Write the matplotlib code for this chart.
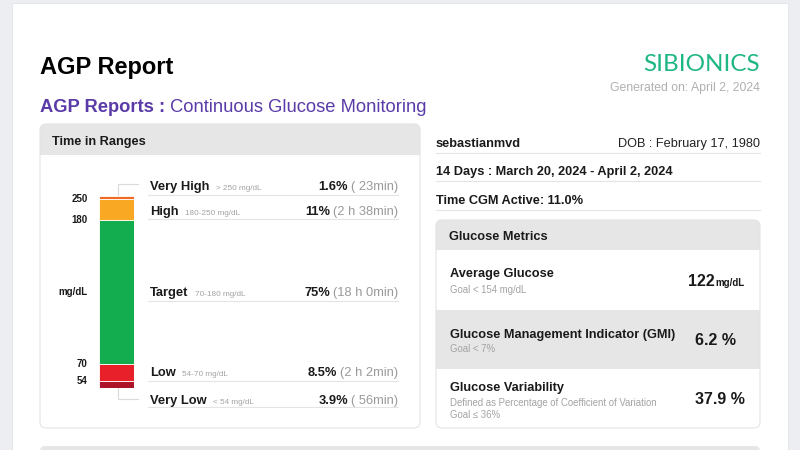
import matplotlib
matplotlib.use("Agg")
import matplotlib.pyplot as plt
from matplotlib.patches import FancyBboxPatch, Rectangle
from matplotlib import transforms

plt.rcParams["font.family"] = ["Liberation Sans", "DejaVu Sans"]

# ---- data ----
range_names = ["Very High", "High", "Target", "Low", "Very Low"]
range_limits = ["> 250 mg/dL", "180-250 mg/dL", "70-180 mg/dL", "54-70 mg/dL", "< 54 mg/dL"]
range_pct = [1.6, 11, 75, 8.5, 3.9]
range_pct_labels = ["1.6%", "11%", "75%", "8.5%", "3.9%"]
range_durations = ["( 23min)", "(2 h 38min)", "(18 h 0min)", "(2 h 2min)", "( 56min)"]
thresholds = [250, 180, 70, 54]  # boundaries between consecutive ranges, top to bottom

metric_names = ["Average Glucose", "Glucose Management Indicator (GMI)", "Glucose Variability"]
metric_goals = [["Goal < 154 mg/dL"], ["Goal < 7%"],
                ["Defined as Percentage of Coefficient of Variation", "Goal \u2264 36%"]]
metric_values = ["122", "6.2 %", "37.9 %"]

patient = "sebastianmvd"
dob = "DOB : February 17, 1980"
period = "14 Days : March 20, 2024 - April 2, 2024"
cgm_active = "Time CGM Active: 11.0%"
generated = "Generated on: April 2, 2024"

# ---- styles ----
range_colors = ["#f26a22", "#f8a823", "#13ad50", "#e8202a", "#ad1429"]
INK = "#1a1a1a"
SUB = "#a3a3a3"
LINE = "#e4e4e4"
HEAD = "#e6e6e6"
PURPLE = "#5a3ba8"
W, H = 800, 450

fig = plt.figure(figsize=(8, 4.5), dpi=100)
fig.patch.set_facecolor("#edeef2")
ax = fig.add_axes([0, 0, 1, 1])
ax.set_xlim(0, W)
ax.set_ylim(H, 0)
ax.axis("off")


def txt(x, y, s, size, bold=False, color=INK, ha="left", va="baseline", **kw):
    return ax.text(x, y, s, fontsize=size, fontweight="bold" if bold else "normal",
                   color=color, ha=ha, va=va, **kw)


def panel(x, y, w, h, head_h):
    ax.add_patch(FancyBboxPatch((x, y), w, h, boxstyle="round,pad=0,rounding_size=6",
                                fc="white", ec="none", zorder=1))
    ax.add_patch(FancyBboxPatch((x, y), w, head_h, boxstyle="round,pad=0,rounding_size=6",
                                fc=HEAD, ec="none", zorder=1.1))
    ax.add_patch(Rectangle((x, y + 8), w, head_h - 8, fc=HEAD, ec="none", zorder=1.1))
    ax.add_patch(FancyBboxPatch((x, y), w, h, boxstyle="round,pad=0,rounding_size=6",
                                fc="none", ec=LINE, lw=0.8, zorder=3))


# page
ax.add_patch(Rectangle((12, 3), 776, 450, fc="white", ec="#e2e3e8", lw=0.6, zorder=0))

# header
txt(40, 74, "AGP Report", 17, bold=True, color="#000000")
t_sub = txt(40, 112, "AGP Reports :", 13.2, bold=True, color=PURPLE)
ax.annotate(" Continuous Glucose Monitoring", xy=(1, 112), xycoords=(t_sub, "data"),
            fontsize=13.2, color=PURPLE, ha="left", va="baseline")
ax.text(760, 71, "SIBIONICS", fontsize=17.5, color="#1fb686", ha="right", va="baseline",
        family=["Lato", "DejaVu Sans"])
txt(760, 91.5, generated, 8.8, color="#b0b0b0", ha="right")

# ---- Time in Ranges panel ----
panel(40, 124, 380, 304, 31)
txt(52, 144.5, "Time in Ranges", 9.2, bold=True)

bx = fig.add_axes([99 / W, 1 - 388 / H, 35 / W, 192 / H])
bx.set_xlim(-0.5, 0.5)
bx.set_ylim(0, 100)
bx.axis("off")
bottom = 0
bounds = []
for pct, col in zip(range_pct[::-1], range_colors[::-1]):
    bx.bar(0, pct, bottom=bottom, width=1, color=col, edgecolor="white", linewidth=0.6)
    bottom += pct
    bounds.append(bottom)
# boundaries from top: after High (250), after Target (180), after Low (70), after Very Low (54)
bound_top_down = bounds[::-1][1:]
lab_tr = transforms.blended_transform_factory(bx.transAxes, bx.transData)
for thr, yb in zip(thresholds, bound_top_down):
    bx.text(-0.33, yb, str(thr), transform=lab_tr, fontsize=7, fontweight="bold",
            color=INK, ha="right", va="center")
tgt_mid = bounds[1] + range_pct[2] / 2
bx.text(-0.33, tgt_mid, "mg/dL", transform=lab_tr, fontsize=7, fontweight="bold",
        color=INK, ha="right", va="center")

# connectors above and below the bar
ax.plot([138, 118, 118], [184, 184, 196], color="#dadada", lw=0.8)
ax.plot([118, 118, 138], [388, 399, 399], color="#dadada", lw=0.8)

row_base = [190.3, 214.6, 296.3, 376.3, 403.6]
row_line = [195, 219, 301, 381, 407]
for name, lim, pl, dur, yb, yl in zip(range_names, range_limits, range_pct_labels,
                                      range_durations, row_base, row_line):
    t_name = txt(150, yb, name, 9.3, bold=True)
    ax.annotate(lim, xy=(1, yb), xycoords=(t_name, "data"), xytext=(4.5, 0),
                textcoords="offset points", fontsize=5.9, color=SUB, va="baseline")
    t_dur = txt(398, yb, dur, 9.3, color="#9a9a9a", ha="right")
    ax.annotate(pl, xy=(0, yb), xycoords=(t_dur, "data"), xytext=(-2, 0),
                textcoords="offset points", fontsize=9.3, fontweight="bold", color=INK,
                ha="right", va="baseline")
    ax.plot([148, 398], [yl, yl], color=LINE, lw=0.8)

# ---- patient info ----
txt(436, 147.3, patient, 9.2, bold=True)
txt(760, 147.3, dob, 9.2, ha="right", color="#222222")
txt(436, 175, period, 9.2, bold=True)
txt(436, 204.3, cgm_active, 9.2, bold=True)
for yl in [152.5, 181, 209.5]:
    ax.plot([436, 760], [yl, yl], color=LINE, lw=0.8)

# ---- Glucose Metrics panel ----
panel(436, 220, 324, 208, 30)
txt(449, 239.5, "Glucose Metrics", 9.2, bold=True)
ax.add_patch(Rectangle((436, 310), 324, 59, fc=HEAD, ec="none", zorder=1.2))

name_base = [277.3, 337.6, 391.3]
goal_base = [293.2, 352.4, 406.5]
value_base = [285.9, 344.9, 404.2]
value_x = [715, 715.5, 720]
for i, (nm, gl, val) in enumerate(zip(metric_names, metric_goals, metric_values)):
    txt(450, name_base[i], nm, 9.2, bold=True, zorder=4)
    for k, line in enumerate(gl):
        txt(450, goal_base[i] + 11.5 * k, line, 6.9, color=SUB, zorder=4)
    if i == 0:
        t_val = txt(value_x[i], value_base[i], val, 11.5, bold=True, ha="right", zorder=4)
        ax.annotate("mg/dL", xy=(1, value_base[i]), xycoords=(t_val, "data"),
                    fontsize=7, fontweight="bold", color=INK, va="baseline", zorder=4)
    else:
        txt(value_x[i], value_base[i], val, 11.5, bold=True, ha="center", zorder=4)

# next section peeking in at the bottom
ax.add_patch(FancyBboxPatch((40, 446), 720, 20, boxstyle="round,pad=0,rounding_size=5",
                            fc=HEAD, ec="none"))

fig.savefig("out.png", dpi=100, facecolor=fig.get_facecolor())
